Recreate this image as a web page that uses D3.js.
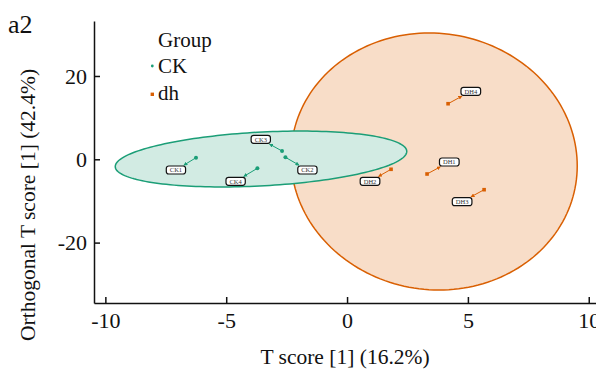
<!DOCTYPE html>
<html>
<head>
<meta charset="utf-8">
<script src="https://cdn.jsdelivr.net/npm/d3@7"></script>
<style>
  body { margin: 0; background: #fff; }
  svg { display: block; }
  text { font-family: "Liberation Serif", "Times New Roman", serif; }
</style>
</head>
<body>
<div id="chart"></div>
<script>
// OPLS-DA score plot, panel a2

// samples
var sampleNames = ["CK1", "CK2", "CK3", "CK4", "DH1", "DH2", "DH3", "DH4"];
var sampleGroup = ["CK", "CK", "CK", "CK", "dh", "dh", "dh", "dh"];
var tScore      = [-6.25, -2.55, -2.69, -3.71, 3.31, 1.82, 5.67, 4.18];
var orthoScore  = [0.38, 0.48, 1.99, -2.16, -3.53, -2.40, -7.30, 13.34];
// where the repel labels sit (data units)
var labelT      = [-7.08, -1.64, -3.57, -4.61, 4.23, 0.95, 4.76, 5.12];
var labelOrtho  = [-2.57, -2.57, 4.80, -5.28, -0.65, -5.28, -10.18, 16.32];

// groups + confidence ellipses (center and two half-axis vectors, data units)
var groups = ["CK", "dh"];
var ellipseCenterT = [-3.56, 3.60];
var ellipseCenterO = [0.07, -0.53];
var ellipseAxis1T  = [6.03, 5.92];
var ellipseAxis1O  = [1.75, 0.0];
var ellipseAxis2T  = [0.06, -0.2];
var ellipseAxis2O  = [6.48, 30.84];

var xTicks = [-10, -5, 0, 5, 10];
var yTicks = [-20, 0, 20];

var width = 596,
    height = 370;

var color = d3.scaleOrdinal().domain(groups).range(["#1b9e77", "#d95f02"]);
var fillColor = d3.scaleOrdinal().domain(groups).range(["#d2ebe3", "#f8ddc8"]);

var x = d3.scaleLinear().domain([-10.47, 10.3]).range([94, 596]);
var y = d3.scaleLinear().domain([-34.5, 33.2]).range([303, 21]);

var svg = d3.select("#chart")
  .append("svg")
  .attr("width", width)
  .attr("height", height);

// ellipses, dh first so CK sits on top
var ellipseLine = d3.line().curve(d3.curveLinearClosed);
[1, 0].forEach(function(g) {
  var pts = d3.range(0, 360, 2).map(function(a) {
    var t = a * Math.PI / 180;
    var dt = ellipseCenterT[g] + Math.cos(t) * ellipseAxis1T[g] + Math.sin(t) * ellipseAxis2T[g];
    var dy = ellipseCenterO[g] + Math.cos(t) * ellipseAxis1O[g] + Math.sin(t) * ellipseAxis2O[g];
    return [x(dt), y(dy)];
  });
  svg.append("path")
    .attr("d", ellipseLine(pts))
    .attr("fill", fillColor(groups[g]))
    .attr("stroke", color(groups[g]))
    .attr("stroke-width", 1.5);
});

// arrow markers
var defs = svg.append("defs");
groups.forEach(function(g) {
  defs.append("marker")
    .attr("id", "arr-" + g)
    .attr("viewBox", "0 0 10 10")
    .attr("refX", 9).attr("refY", 5)
    .attr("markerWidth", 4).attr("markerHeight", 4)
    .attr("markerUnits", "userSpaceOnUse")
    .attr("orient", "auto")
    .append("path")
    .attr("d", "M0,0L10,5L0,10Z")
    .attr("fill", color(g));
});

var data = sampleNames.map(function(n, i) {
  return { name: n, group: sampleGroup[i], t: tScore[i], o: orthoScore[i], lt: labelT[i], lo: labelOrtho[i] };
});

// labels (measure first, arrows need the box size)
var labelG = svg.append("g");
var boxes = [];
data.forEach(function(d) {
  var g = labelG.append("g").attr("transform", "translate(" + x(d.lt) + "," + y(d.lo) + ")");
  var txt = g.append("text")
    .attr("text-anchor", "middle")
    .attr("dy", "0.35em")
    .attr("font-size", 6.5)
    .attr("fill", "#333")
    .text(d.name);
  var w = txt.node().getComputedTextLength() + 7, h = 8;
  g.insert("rect", "text")
    .attr("x", -w / 2).attr("y", -h / 2)
    .attr("width", w).attr("height", h)
    .attr("rx", 2.5)
    .attr("fill", "#fff")
    .attr("stroke", "#111")
    .attr("stroke-width", 1.2);
  boxes.push({ w: w, h: h });
});

// arrows from point to box edge
var arrowG = svg.insert("g", function() { return labelG.node(); });
data.forEach(function(d, i) {
  var px = x(d.t), py = y(d.o), cx = x(d.lt), cy = y(d.lo);
  var dx = cx - px, dy = cy - py;
  var hw = boxes[i].w / 2 + 0.8, hh = boxes[i].h / 2 + 0.8;
  var s = Math.min(Math.abs(dx) > 0 ? hw / Math.abs(dx) : Infinity,
                   Math.abs(dy) > 0 ? hh / Math.abs(dy) : Infinity);
  var ex = cx - dx * s, ey = cy - dy * s;
  arrowG.append("line")
    .attr("x1", px).attr("y1", py)
    .attr("x2", ex).attr("y2", ey)
    .attr("stroke", color(d.group))
    .attr("stroke-width", 1)
    .attr("marker-end", "url(#arr-" + d.group + ")");
});

// points
var pointG = svg.insert("g", function() { return labelG.node(); });
data.forEach(function(d) {
  if (d.group === "CK") {
    pointG.append("circle")
      .attr("cx", x(d.t)).attr("cy", y(d.o)).attr("r", 2)
      .attr("fill", color(d.group));
  } else {
    pointG.append("rect")
      .attr("x", x(d.t) - 1.8).attr("y", y(d.o) - 1.8)
      .attr("width", 3.6).attr("height", 3.6)
      .attr("fill", color(d.group));
  }
});

// axes
var xAxis = d3.axisBottom(x)
  .tickValues(xTicks)
  .tickFormat(function(d) { return String(d); })
  .tickSizeInner(-6).tickSizeOuter(0).tickPadding(9);
var yAxis = d3.axisLeft(y)
  .tickValues(yTicks)
  .tickFormat(function(d) { return String(d); })
  .tickSizeInner(-6).tickSizeOuter(0).tickPadding(7);

var gx = svg.append("g").attr("transform", "translate(0,303)").call(xAxis);
var gy = svg.append("g").attr("transform", "translate(94,0)").call(yAxis);
[gx, gy].forEach(function(g) {
  g.selectAll("path, line").attr("stroke", "#111").attr("stroke-width", 1.5);
  g.selectAll("text").attr("font-size", 22).attr("fill", "#111")
    .style("font-family", "'Liberation Serif', 'Times New Roman', serif");
});

// titles
svg.append("text")
  .attr("x", 345).attr("y", 364)
  .attr("text-anchor", "middle")
  .attr("font-size", 21.5)
  .attr("fill", "#111")
  .text("T score [1] (16.2%)");

svg.append("text")
  .attr("transform", "translate(35,205) rotate(-90)")
  .attr("text-anchor", "middle")
  .attr("font-size", 21.5)
  .attr("fill", "#111")
  .text("Orthogonal T score [1] (42.4%)");

svg.append("text")
  .attr("x", 8).attr("y", 33)
  .attr("font-size", 26)
  .attr("fill", "#111")
  .text("a2");

// legend
var legend = svg.append("g");
legend.append("text").attr("x", 158).attr("y", 47).attr("font-size", 21).attr("fill", "#111").text("Group");
legend.append("circle").attr("cx", 152.3).attr("cy", 66).attr("r", 1.4).attr("fill", color("CK"));
legend.append("text").attr("x", 158).attr("y", 73).attr("font-size", 21).attr("fill", "#111").text("CK");
legend.append("rect").attr("x", 150.6).attr("y", 92.6).attr("width", 3.4).attr("height", 3.4).attr("fill", color("dh"));
legend.append("text").attr("x", 158).attr("y", 99.5).attr("font-size", 21).attr("fill", "#111").text("dh");
</script>
</body>
</html>
